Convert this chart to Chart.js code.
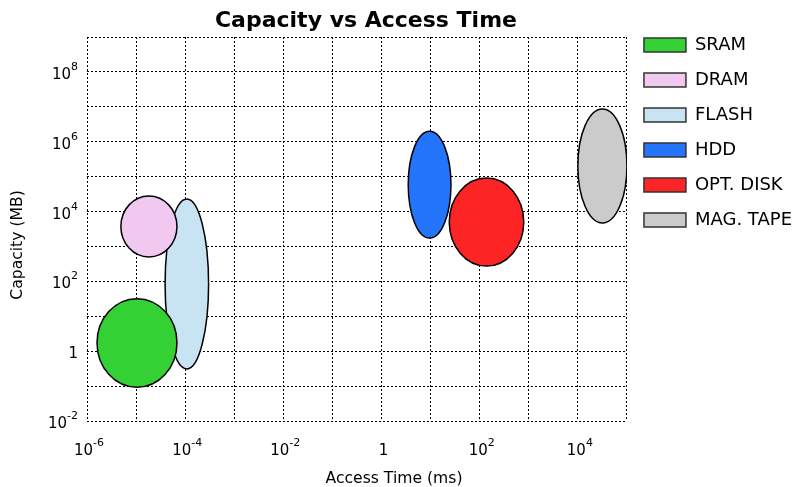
<!DOCTYPE html>
<html>
<head>
<meta charset="utf-8">
<script src="https://cdn.jsdelivr.net/npm/chart.js@4.4.1/dist/chart.umd.min.js"></script>
<style>
  html, body { margin: 0; padding: 0; background: #fff; }
</style>
</head>
<body>
<canvas id="chart" width="802" height="487"></canvas>
<script>
// Memory technologies: access time range (ms) and capacity range (MB)
const devices = ['SRAM', 'DRAM', 'FLASH', 'HDD', 'OPT. DISK', 'MAG. TAPE'];
const accessMin = [1.6e-6, 4.9e-6, 3.9e-5, 3.5, 24, 1.0e4];
const accessMax = [6.8e-5, 6.8e-5, 3.0e-4, 26, 790, 1.0e5];
const capacityMin = [0.093, 500, 0.31, 1740, 275, 4700];
const capacityMax = [32, 28000, 23000, 2.0e6, 91000, 8.7e6];
const fillColors = ['#33d133', '#f0c8f0', '#c8e4f2', '#2474fc', '#fc2424', '#cbcbcb'];

// Tick values and their labels (one grid line per decade, label every second)
const xTicks = [1e-6, 1e-5, 1e-4, 1e-3, 1e-2, 1e-1, 1, 1e1, 1e2, 1e3, 1e4, 1e5];
const xTickLabels = ['10^-6', '', '10^-4', '', '10^-2', '', '1', '', '10^2', '', '10^4', ''];
const yTicks = [1e-2, 1e-1, 1, 1e1, 1e2, 1e3, 1e4, 1e5, 1e6, 1e7, 1e8, 1e9];
const yTickLabels = ['10^-2', '', '1', '', '10^2', '', '10^4', '', '10^6', '', '10^8', ''];

Chart.defaults.font.family = '"DejaVu Sans", sans-serif';
Chart.defaults.color = '#000';

// Each device is drawn as an ellipse spanning its two corner points
const ellipses = {
    id: 'ellipses',
    afterDatasetsDraw(chart) {
        const ctx = chart.ctx;
        const area = chart.chartArea;
        ctx.save();
        ctx.beginPath();
        ctx.rect(area.left, area.top, area.right - area.left, area.bottom - area.top);
        ctx.clip();
        for (let i = chart.data.datasets.length - 1; i >= 0; i--) {
            if (!chart.isDatasetVisible(i)) continue;
            const [a, b] = chart.getDatasetMeta(i).data;
            const cx = (a.x + b.x) / 2;
            const cy = (a.y + b.y) / 2;
            ctx.beginPath();
            ctx.ellipse(cx, cy, Math.abs(b.x - a.x) / 2, Math.abs(b.y - a.y) / 2, 0, 0, Math.PI * 2);
            ctx.fillStyle = chart.data.datasets[i].backgroundColor;
            ctx.fill();
            ctx.lineWidth = 1.5;
            ctx.strokeStyle = '#000';
            ctx.stroke();
        }
        ctx.restore();
    }
};

// "10^n" tick labels with a real raised exponent
function drawPower(ctx, label, x, y, align) {
    const [base, exp = ''] = label.split('^');
    ctx.font = '15px "DejaVu Sans"';
    const wb = ctx.measureText(base).width;
    ctx.font = '11px "DejaVu Sans"';
    const we = ctx.measureText(exp).width;
    const total = wb + we;
    const left = align === 'right' ? x - total : x - total / 2;
    ctx.textAlign = 'left';
    ctx.font = '15px "DejaVu Sans"';
    ctx.fillText(base, left, y);
    if (exp) {
        ctx.font = '11px "DejaVu Sans"';
        ctx.fillText(exp, left + wb, y - 9);
    }
}

const tickLabels = {
    id: 'tickLabels',
    afterLayout(chart) {
        // the original title sits a little right of the plot centre
        chart.titleBlock.left += 9;
        chart.titleBlock.right += 9;
    },
    afterDraw(chart) {
        const ctx = chart.ctx;
        const { x, y } = chart.scales;
        ctx.save();
        ctx.fillStyle = '#000';
        ctx.textBaseline = 'alphabetic';
        xTicks.forEach((v, i) => {
            if (xTickLabels[i]) drawPower(ctx, xTickLabels[i], x.getPixelForValue(v) + 2, y.bottom + 34, 'center');
        });
        yTicks.forEach((v, i) => {
            if (yTickLabels[i]) drawPower(ctx, yTickLabels[i], x.left - 9, y.getPixelForValue(v) + 7, 'right');
        });
        ctx.restore();
    }
};

// Axis titles, placed where the original figure has them
const axisTitles = {
    id: 'axisTitles',
    afterDraw(chart) {
        const ctx = chart.ctx;
        ctx.save();
        ctx.fillStyle = '#000';
        ctx.font = '15.6px "DejaVu Sans"';
        ctx.textAlign = 'center';
        ctx.textBaseline = 'middle';
        ctx.fillText('Access Time (ms)', 394, 479);
        ctx.translate(18, 245);
        ctx.rotate(-Math.PI / 2);
        ctx.fillText('Capacity (MB)', 0, 0);
        ctx.restore();
    }
};

const datasets = devices.map((name, i) => ({
    label: name,
    data: [
        { x: accessMin[i], y: capacityMin[i] },
        { x: accessMax[i], y: capacityMax[i] }
    ],
    backgroundColor: fillColors[i],
    borderColor: '#333',
    borderWidth: 1.5,
    pointRadius: 0,
    pointHoverRadius: 0,
    showLine: false
}));

const gridStyle = { color: '#000', lineWidth: 1, drawTicks: false };
const borderStyle = { display: false, dash: [2, 2] };

new Chart(document.getElementById('chart'), {
    type: 'scatter',
    data: { datasets },
    plugins: [ellipses, tickLabels, axisTitles],
    options: {
        responsive: false,
        animation: false,
        layout: { padding: 0 },
        plugins: {
            tooltip: { enabled: false },
            title: {
                display: true,
                fullSize: false,
                text: 'Capacity vs Access Time',
                color: '#000',
                font: { size: 22, weight: 'bold' },
                padding: { top: 7.6, bottom: 3 }
            },
            legend: {
                position: 'right',
                align: 'start',
                title: { display: true, text: '', font: { size: 19, lineHeight: 1 }, padding: 0 },
                labels: {
                    boxWidth: 42,
                    boxHeight: 14,
                    padding: 17,
                    color: '#000',
                    font: { size: 18 }
                }
            }
        },
        scales: {
            x: {
                type: 'logarithmic',
                min: xTicks[0],
                max: xTicks[xTicks.length - 1],
                grid: gridStyle,
                border: borderStyle,
                afterBuildTicks: (scale) => { scale.ticks = xTicks.map(v => ({ value: v })); },
                afterFit: (scale) => { scale.height = 66; },
                ticks: { display: false, autoSkip: false }
            },
            y: {
                type: 'logarithmic',
                min: yTicks[0],
                max: yTicks[yTicks.length - 1],
                grid: gridStyle,
                border: borderStyle,
                afterBuildTicks: (scale) => { scale.ticks = yTicks.map(v => ({ value: v })); },
                afterFit: (scale) => { scale.width = 87; },
                ticks: { display: false, autoSkip: false }
            }
        }
    }
});
</script>
</body>
</html>
